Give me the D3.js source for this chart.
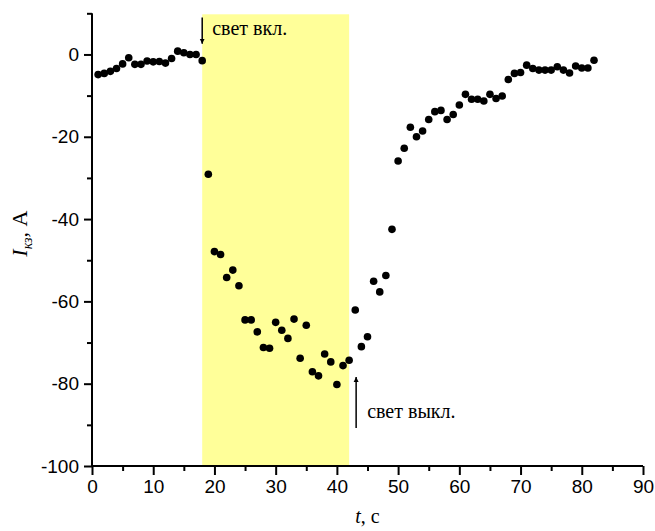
<!DOCTYPE html>
<html><head><meta charset="utf-8">
<script src="https://cdn.jsdelivr.net/npm/d3@7"></script>
<style>body{margin:0;background:#fff}svg{display:block}</style>
</head><body>
<svg id="c" width="655" height="531"></svg>
<script>
const times = [1,2,3,4,5,6,7,8,9,10,11,12,13,14,15,16,17,18,
  19,20,21,22,23,24,25,26,27,28,29,30,31,32,33,34,35,36,37,38,39,40,41,42,
  43,44,45,46,47,48,49,50,51,52,53,54,55,56,57,58,59,60,61,62,63,64,65,66,67,68,69,70,
  71,72,73,74,75,76,77,78,79,80,81,82];
const current = [-4.9,-4.6,-4.1,-3.4,-2.3,-0.8,-2.4,-2.4,-1.6,-1.8,-1.7,-2.1,-1.0,0.8,0.4,0.0,0.0,-1.5,
  -29.1,-47.9,-48.6,-54.2,-52.4,-56.2,-64.5,-64.5,-67.4,-71.2,-71.4,-65.1,-67.0,-69.0,-64.3,-73.8,-65.8,-77.1,-78.1,-72.8,-74.7,-80.2,-75.6,-74.3,
  -62.1,-71.0,-68.6,-55.1,-57.7,-53.7,-42.5,-25.9,-22.8,-17.7,-20.0,-18.6,-15.8,-13.9,-13.6,-15.8,-14.6,-12.3,-9.7,-10.9,-10.9,-11.3,-9.7,-10.7,-10.1,-6.1,-4.6,-4.4,
  -2.6,-3.4,-3.8,-3.8,-3.8,-3.0,-3.8,-4.5,-2.8,-3.3,-3.3,-1.4];
const lightOn = 18, lightOff = 42;
const xTicks = [0,10,20,30,40,50,60,70,80,90];
const xMinor = [5,15,25,35,45,55,65,75,85];
const yTicks = [-100,-80,-60,-40,-20,0];
const yMinor = [-90,-70,-50,-30,-10,10];
const onLabel = "свет вкл.", offLabel = "свет выкл.";

const svg = d3.select("#c");
const x = d3.scaleLinear().domain([0,90]).range([92,643]);
const y = d3.scaleLinear().domain([-100,10]).range([466,13.3]);

// light band
svg.append("rect").attr("x", x(lightOn)).attr("y", y(10)+1)
  .attr("width", x(lightOff)-x(lightOn)).attr("height", y(-100)-y(10)-1)
  .attr("fill", "#ffff99");

const fontSans = "Arial, 'Liberation Sans', sans-serif";
const fontSerif = "'Times New Roman', 'Liberation Serif', serif";

function styleAxis(g){
  g.select(".domain").remove();
  g.selectAll("line").attr("stroke","#000").attr("stroke-width",2);
  g.selectAll("text").attr("font-family",fontSans).attr("font-size",19).attr("fill","#000");
}
// x axis
svg.append("g").attr("transform",`translate(0,${y(-100)})`)
  .call(d3.axisBottom(x).tickValues(xMinor).tickSize(5).tickFormat("")).call(styleAxis);
svg.append("g").attr("transform",`translate(0,${y(-100)})`)
  .call(d3.axisBottom(x).tickValues(xTicks).tickSize(9).tickPadding(5).tickFormat(d3.format("d"))).call(styleAxis);
// y axis
svg.append("g").attr("transform",`translate(${x(0)},0)`)
  .call(d3.axisLeft(y).tickValues(yMinor).tickSize(5).tickFormat("")).call(styleAxis);
svg.append("g").attr("transform",`translate(${x(0)},0)`)
  .call(d3.axisLeft(y).tickValues(yTicks).tickSize(8).tickPadding(5).tickFormat(d => d3.format("d")(d).replace("−","-"))).call(styleAxis);
// axis lines
svg.append("line").attr("x1",x(0)).attr("x2",x(90)).attr("y1",y(-100)).attr("y2",y(-100)).attr("stroke","#000").attr("stroke-width",2);
svg.append("line").attr("x1",x(0)).attr("x2",x(0)).attr("y1",y(-100)+1).attr("y2",y(10)).attr("stroke","#000").attr("stroke-width",2);

// points
svg.append("g").selectAll("circle").data(times.map((t,i)=>[t,current[i]])).join("circle")
  .attr("cx",d=>x(d[0])).attr("cy",d=>y(d[1])).attr("r",3.8).attr("fill","#000");

// arrow markers
const defs = svg.append("defs");
defs.append("marker").attr("id","ah").attr("viewBox","0 0 10 10").attr("refX",10).attr("refY",5)
  .attr("markerWidth",5).attr("markerHeight",6).attr("markerUnits","userSpaceOnUse").attr("orient","auto")
  .append("path").attr("d","M0,0L10,5L0,10Z").attr("fill","#000");
// light on arrow
svg.append("line").attr("x1",x(lightOn)).attr("x2",x(lightOn)).attr("y1",y(9)).attr("y2",y(2.6))
  .attr("stroke","#000").attr("stroke-width",1.5).attr("marker-end","url(#ah)");
svg.append("text").attr("x",x(lightOn)+10).attr("y",35).attr("font-family",fontSerif).attr("font-size",20).text(onLabel);
// light off arrow
const offX = x(lightOff)+7;
svg.append("line").attr("x1",offX).attr("x2",offX).attr("y1",428).attr("y2",377)
  .attr("stroke","#000").attr("stroke-width",1.5).attr("marker-end","url(#ah)");
svg.append("text").attr("x",offX+11).attr("y",418).attr("font-family",fontSerif).attr("font-size",20).text(offLabel);

// axis titles
const xt = svg.append("text").attr("x",(x(0)+x(90))/2).attr("y",523).attr("text-anchor","middle")
  .attr("font-family",fontSerif).attr("font-size",20);
xt.append("tspan").attr("font-style","italic").text("t");
xt.append("tspan").text(", c");
const yt = svg.append("text").attr("transform",`translate(27,${(y(-100)+y(10))/2 - 6}) rotate(-90)`)
  .attr("text-anchor","middle").attr("font-family",fontSerif).attr("font-size",22);
yt.append("tspan").attr("font-style","italic").text("I");
yt.append("tspan").attr("font-style","italic").attr("font-size",14).attr("dy",5).text("кз");
yt.append("tspan").attr("dy",-5).text(", A");
</script>
</body></html>
